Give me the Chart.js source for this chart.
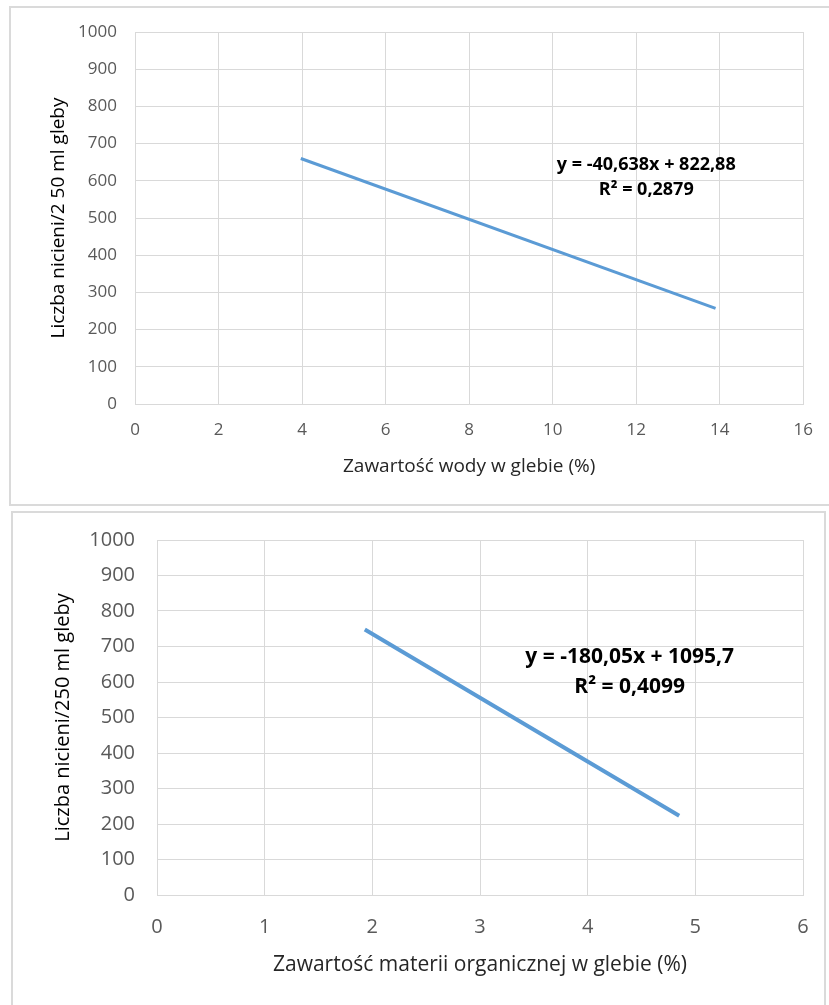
<!DOCTYPE html>
<html>
<head>
<meta charset="utf-8">
<script src="https://cdn.jsdelivr.net/npm/chart.js@4.4.0/dist/chart.umd.min.js"></script>
<style>
    body { margin: 0; background: #fff; width: 829px; height: 1005px; overflow: hidden; position: relative; }
    canvas { position: absolute; left: 0; }
    #waterChart { top: 0; }
    #organicChart { top: 505px; }
    .frame { position: absolute; border: 2px solid #dadada; box-sizing: border-box; pointer-events: none; }
</style>
</head>
<body>
<canvas id="waterChart" width="829" height="505"></canvas>
<canvas id="organicChart" width="829" height="500"></canvas>
<div class="frame" style="left:9px; top:6px; width:840px; height:500px"></div>
<div class="frame" style="left:11px; top:511px; width:815px; height:520px"></div>
<script>
// trend lines
const waterX = [3.97, 13.9];
const waterY = [660, 257];
const organicX = [1.93, 4.85];
const organicY = [748, 223];

const waterEq = ["y = -40,638x + 822,88", "R² = 0,2879"];
const organicEq = ["y = -180,05x + 1095,7", "R² = 0,4099"];

const yTitleWater = "Liczba nicieni/2 50 ml gleby";
const yTitleOrganic = "Liczba nicieni/250 ml gleby";
const xTitleWater = "Zawartość wody w glebie (%)";
const xTitleOrganic = "Zawartość materii organicznej w glebie (%)";

const GRID = "#d9d9d9";
const LINE = "#5b9bd5";
const FONT = "'Open Sans', sans-serif";

// equation labels, placed in data units
const eqPlugin = {
    id: "eqText",
    afterDatasetsDraw(chart, args, opts) {
        const { ctx, scales } = chart;
        ctx.save();
        ctx.font = "bold " + opts.size + "px " + FONT;
        ctx.fillStyle = "#000";
        ctx.textAlign = "center";
        ctx.textBaseline = "middle";
        opts.lines.forEach((t, i) => {
            ctx.fillText(t, scales.x.getPixelForValue(opts.x), scales.y.getPixelForValue(opts.y[i]));
        });
        ctx.restore();
    }
};

const toPoints = (xs, ys) => xs.map((x, i) => ({ x: x, y: ys[i] }));
const plain = (v) => String(v);

const createChartConfig = (s) => ({
    type: "scatter",
    data: {
        datasets: [{
            data: toPoints(s.xs, s.ys),
            showLine: true,
            borderColor: LINE,
            borderWidth: s.lineWidth,
            pointRadius: 0
        }]
    },
    plugins: [eqPlugin],
    options: {
        responsive: false,
        animation: false,
        layout: { padding: s.padding },
        plugins: {
            legend: { display: false },
            tooltip: { enabled: false },
            eqText: { lines: s.eq, x: s.eqX, y: s.eqY, size: s.eqSize }
        },
        scales: {
            x: {
                type: "linear", min: 0, max: s.xMax,
                afterFit: (sc) => { sc.height = s.xAxisH; },
                grid: { color: GRID, drawTicks: false },
                border: { color: GRID },
                ticks: { stepSize: s.xStep, padding: s.xTickPad, color: "#595959", callback: plain, font: { family: FONT, size: s.tickSize } },
                title: { display: true, text: s.xTitle, color: "#262626", padding: { top: 0, bottom: s.xTitlePad }, font: { family: FONT, size: s.xTitleSize } }
            },
            y: {
                min: 0, max: 1000,
                afterFit: (sc) => { sc.width = s.yAxisW; },
                grid: { color: GRID, drawTicks: false },
                border: { color: GRID },
                ticks: { stepSize: 100, padding: s.yTickPad, color: "#595959", callback: plain, font: { family: FONT, size: s.tickSize } },
                title: { display: true, text: s.yTitle, color: "#000", padding: { top: s.yTitlePad, bottom: 0 }, font: { family: FONT, size: s.yTitleSize } }
            }
        }
    }
});

new Chart(document.getElementById("waterChart").getContext("2d"), createChartConfig({
    xs: waterX, ys: waterY, lineWidth: 3,
    eq: waterEq, eqX: 12.24, eqY: [642, 575], eqSize: 18,
    padding: { left: 0, right: 22, top: 32, bottom: 21 },
    xMax: 16, xStep: 2, xAxisH: 80, xTickPad: 16, xTitlePad: 6,
    yAxisW: 135, yTickPad: 18, yTitlePad: 47,
    tickSize: 17, xTitle: xTitleWater, xTitleSize: 19,
    yTitle: yTitleWater, yTitleSize: 19
}));

new Chart(document.getElementById("organicChart").getContext("2d"), createChartConfig({
    xs: organicX, ys: organicY, lineWidth: 4,
    eq: organicEq, eqX: 4.39, eqY: [670, 586], eqSize: 21,
    padding: { left: 0, right: 26, top: 35, bottom: 10 },
    xMax: 6, xStep: 1, xAxisH: 100, xTickPad: 20, xTitlePad: 17,
    yAxisW: 157, yTickPad: 22, yTitlePad: 51,
    tickSize: 20, xTitle: xTitleOrganic, xTitleSize: 21,
    yTitle: yTitleOrganic, yTitleSize: 20
}));
</script>
</body>
</html>
